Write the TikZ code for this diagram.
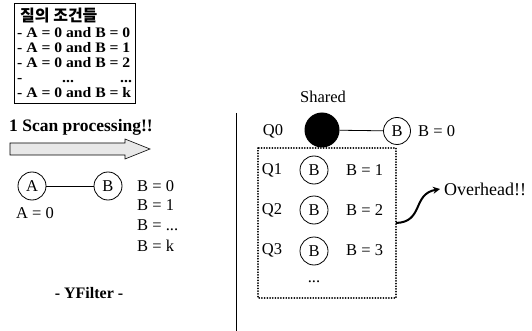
\documentclass[tikz,border=0pt]{standalone}
\usepackage{fontspec}
\setmainfont{Liberation Serif}
\newfontfamily\krfont{Noto Sans CJK KR}
\newfontfamily\boxfont[FakeStretch=1.08]{Liberation Serif}
\usetikzlibrary{arrows.meta}
\begin{document}
\begin{tikzpicture}[x=1pt,y=-1pt,
  lbl/.style={inner sep=0pt, font=\fontsize{16.5}{16.5}\selectfont},
  boxtxt/.style={inner sep=0pt, anchor=base west, font=\boxfont\fontsize{14.5}{14.5}\selectfont\bfseries},
  vert/.style={circle, draw, line width=0.8pt, minimum size=28pt, inner sep=0pt, font=\fontsize{16.5}{16.5}\selectfont},
  dotbox/.style={draw, line width=1.8pt, dash pattern=on 0.1pt off 2.6pt, line cap=round}
]
\useasboundingbox (0,0) rectangle (532,331);
% query box
\node (qbox) [draw, line width=0.7pt, minimum width=121pt, minimum height=100pt, inner sep=0pt] at (74.5,53) {};
\node (qtitle) [boxtxt, font=\krfont\bfseries\fontsize{16}{16}\selectfont] at (20,22) {질의 조건들};
\node (q1) [boxtxt] at (17,38) {- A = 0 and B = 0};
\node (q2) [boxtxt] at (17,53) {- A = 0 and B = 1};
\node (q3) [boxtxt] at (17,68) {- A = 0 and B = 2};
\node (q4a) [boxtxt] at (17,83) {-};
\node (q4b) [boxtxt] at (62,83) {...};
\node (q4c) [boxtxt] at (120,83) {...};
\node (q5) [boxtxt] at (17,98) {- A = 0 and B = k};
% scan arrow
\node (scan) [inner sep=0pt, anchor=west, font=\fontsize{17.5}{17.5}\selectfont\bfseries] at (9,127) {1 Scan processing!!};
\draw[line width=0.6pt, fill=gray!18] (10,143) -- (125,143) -- (125,139) -- (150,149) -- (125,159) -- (125,155) -- (10,155) -- cycle;
% YFilter graph
\node (A) [vert] at (32,186) {A};
\node (B) [vert] at (108,186) {B};
\draw[line width=0.6pt] (A) -- (B);
\node (a0) [lbl] at (35,213) {A = 0};
\node (b0) [lbl, anchor=west] at (137,186) {B = 0};
\node (b1) [lbl, anchor=west] at (137,205) {B = 1};
\node (b2) [lbl, anchor=west] at (137,225) {B = ...};
\node (b3) [lbl, anchor=west] at (137,246) {B = k};
\node (yf) [lbl, font=\fontsize{16}{16}\selectfont\bfseries] at (89,293) {- YFilter -};
% divider
\draw[line width=0.8pt] (236,113) -- (236,331);
% shared
\node (shared) [lbl] at (323,97) {Shared};
\node (q0) [lbl] at (273,131) {Q0};
\node (S) [circle, fill=black, minimum size=35pt, inner sep=0pt] at (322,130) {};
\node (B0) [vert, minimum size=27pt] at (397,131) {B};
\draw[line width=0.8pt] (S) -- (B0);
\node (bb0) [lbl, anchor=west] at (418,131) {B = 0};
% dotted box
\draw[dotbox] (258,148) rectangle (396,298);
\node (ql1) [lbl] at (272,170) {Q1};
\node (ql2) [lbl] at (272,210) {Q2};
\node (ql3) [lbl] at (272,250) {Q3};
\node (B1) [vert] at (314,170) {B};
\node (B2) [vert] at (314,210) {B};
\node (B3) [vert] at (314,251) {B};
\node (v1) [lbl, anchor=west] at (346,170) {B = 1};
\node (v2) [lbl, anchor=west] at (346,210) {B = 2};
\node (v3) [lbl, anchor=west] at (346,250) {B = 3};
\node (vd) [lbl] at (314,282) {...};
% overhead
\coordinate (ostart) at (396,223);
\node (over) [lbl, anchor=west, font=\fontsize{18}{18}\selectfont] at (444,189) {Overhead!!};
\draw[line width=2pt, -{Stealth[length=7pt,width=7pt]}] (ostart) .. controls (424,222) and (412,194) .. ([xshift=-4pt]over.west);
\end{tikzpicture}
\end{document}
